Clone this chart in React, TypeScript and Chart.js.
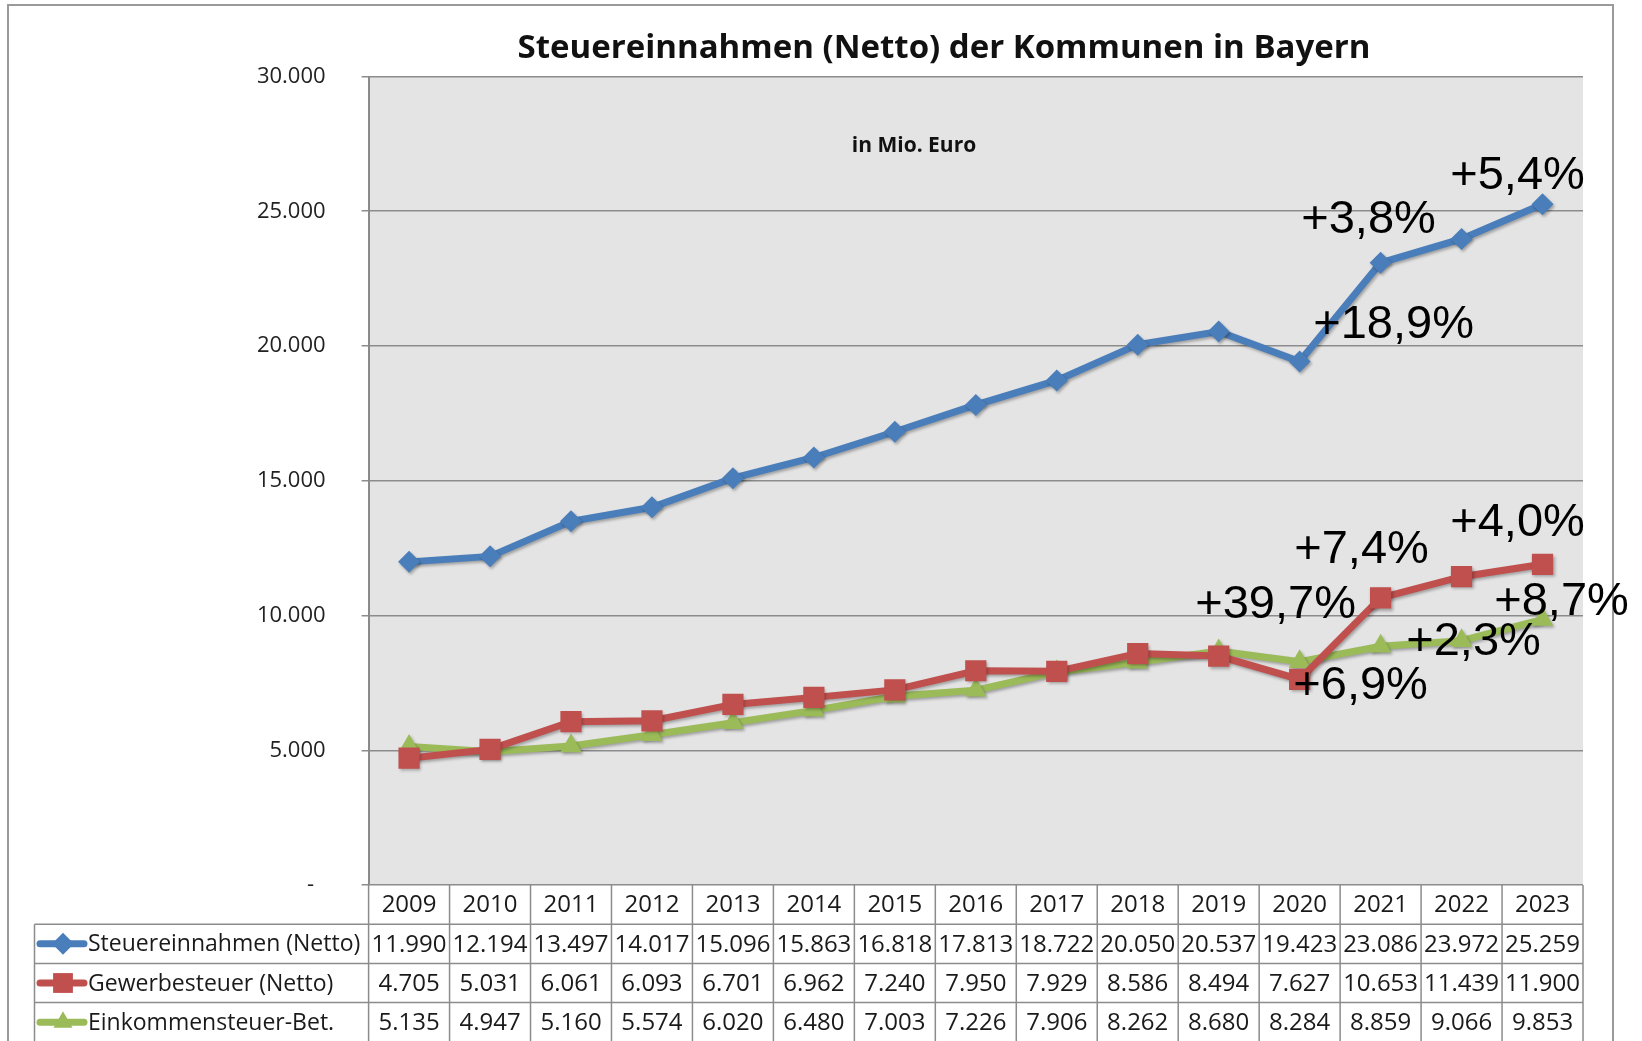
import React, { useEffect, useRef } from "react";
import { Chart, registerables } from "chart.js";

Chart.register(...registerables);

// ---------- data ----------
const years = ["2009", "2010", "2011", "2012", "2013", "2014", "2015", "2016", "2017", "2018", "2019", "2020", "2021", "2022", "2023"];
const steuereinnahmen = [11990, 12194, 13497, 14017, 15096, 15863, 16818, 17813, 18722, 20050, 20537, 19423, 23086, 23972, 25259];
const gewerbesteuer = [4705, 5031, 6061, 6093, 6701, 6962, 7240, 7950, 7929, 8586, 8494, 7627, 10653, 11439, 11900];
const einkommensteuer = [5135, 4947, 5160, 5574, 6020, 6480, 7003, 7226, 7906, 8262, 8680, 8284, 8859, 9066, 9853];
const seriesNames = ["Steuereinnahmen (Netto)", "Gewerbesteuer (Netto)", "Einkommensteuer-Bet."];
const yTicks = [0, 5000, 10000, 15000, 20000, 25000, 30000];
const yTickLabels = ["-  ", "5.000", "10.000", "15.000", "20.000", "25.000", "30.000"];
const title = "Steuereinnahmen (Netto) der Kommunen in Bayern";
const subtitle = "in Mio. Euro";
// growth labels: text, series index, year index
const growthTexts = ["+5,4%", "+3,8%", "+18,9%", "+4,0%", "+7,4%", "+39,7%", "+8,7%", "+2,3%", "+6,9%"];
const growthSeries = [0, 0, 0, 1, 1, 1, 2, 2, 2];
const growthYearIdx = [14, 13, 12, 14, 13, 12, 14, 13, 12];

// ---------- layout / style ----------
const W = 1642;
const H = 1041;
const PLOT = { left: 368.6, right: 1583, top: 76.5, bottom: 885 };
const ROW_H = 39.2;
const TABLE_LEFT = 34.5;
const COLORS = ["#4a7ebb", "#c0504d", "#9bbb59"];
const SHAPES = ["diamond", "square", "triangle"];
const growthOffsets = [
  [-25, -28], [-93, -19], [13, 62],
  [-25, -41], [-100, -27], [-105, 7],
  [19, -17], [12, 1], [-20, 40],
];
const LINE_GRAY = "#8c8c8c";
const TABLE_FONT = '24px "Open Sans"';
const LABEL_FONT = '23px "Open Sans"';

const seriesData = [steuereinnahmen, gewerbesteuer, einkommensteuer];

function fmt(v: number): string {
  const s = String(v);
  if (s.length <= 3) return s;
  return s.slice(0, s.length - 3) + "." + s.slice(s.length - 3);
}

function drawShape(ctx: CanvasRenderingContext2D, shape: string, x: number, y: number, r: number, color: string) {
  ctx.beginPath();
  if (shape === "diamond") {
    ctx.moveTo(x - r, y);
    ctx.lineTo(x, y - r);
    ctx.lineTo(x + r, y);
    ctx.lineTo(x, y + r);
  } else if (shape === "square") {
    const s = r * Math.SQRT1_2;
    ctx.rect(x - s, y - s, 2 * s, 2 * s);
  } else {
    ctx.moveTo(x, y - r);
    ctx.lineTo(x + r * Math.sin(Math.PI * 2 / 3), y + r * 0.5);
    ctx.lineTo(x - r * Math.sin(Math.PI * 2 / 3), y + r * 0.5);
  }
  ctx.closePath();
  ctx.fillStyle = color;
  ctx.fill();
}

const customPlugin = {
  id: "custom",
  beforeDraw(chart: any) {
    const { ctx, chartArea: a } = chart;
    ctx.save();
    ctx.fillStyle = "#ffffff";
    ctx.fillRect(0, 0, chart.width, chart.height);
    ctx.fillStyle = "#e4e4e4";
    ctx.fillRect(a.left, a.top, a.right - a.left, a.bottom - a.top);
    ctx.restore();
  },
  beforeDatasetsDraw(chart: any) {
    const ctx = chart.ctx;
    ctx.save();
    ctx.shadowColor = "rgba(0,0,0,0.3)";
    ctx.shadowBlur = 3;
    ctx.shadowOffsetX = 1.5;
    ctx.shadowOffsetY = 2;
  },
  afterDatasetsDraw(chart: any) {
    chart.ctx.restore();
  },
  afterDraw(chart: any) {
    const { ctx, chartArea: a } = chart;
    const xs = chart.scales.x;
    const ys = chart.scales.y;
    const n = years.length;
    const colW = (a.right - a.left) / n;
    ctx.save();

    // outer frame
    ctx.strokeStyle = "#9a9a9a";
    ctx.lineWidth = 2;
    ctx.beginPath();
    ctx.moveTo(8, H + 5);
    ctx.lineTo(8, 5);
    ctx.lineTo(1613, 5);
    ctx.lineTo(1613, H + 5);
    ctx.stroke();

    // title
    ctx.fillStyle = "#111";
    ctx.textAlign = "center";
    ctx.textBaseline = "middle";
    ctx.font = 'bold 33px "Open Sans"';
    ctx.fillText(title, 944, 49);
    ctx.font = 'bold 21px "Open Sans"';
    ctx.fillText(subtitle, 914, 146);

    // data table
    const top = a.bottom;
    ctx.strokeStyle = LINE_GRAY;
    ctx.lineWidth = 1.5;
    ctx.beginPath();
    for (let k = 0; k <= n; k++) {
      const x = a.left + k * colW;
      ctx.moveTo(x, top);
      ctx.lineTo(x, H + 5);
    }
    for (let r = 1; r <= 3; r++) {
      const y = top + r * ROW_H;
      ctx.moveTo(TABLE_LEFT, y);
      ctx.lineTo(a.right, y);
    }
    ctx.moveTo(TABLE_LEFT, top + ROW_H);
    ctx.lineTo(TABLE_LEFT, H + 5);
    ctx.stroke();

    ctx.font = TABLE_FONT;
    ctx.fillStyle = "#1a1a1a";
    ctx.textAlign = "center";
    years.forEach((yr, i) => {
      ctx.fillText(yr, xs.getPixelForValue(i), top + ROW_H * 0.5 + 1);
    });
    seriesData.forEach((arr, s) => {
      const cy = top + ROW_H * (s + 1.5) + 1;
      ctx.font = TABLE_FONT;
      ctx.textAlign = "center";
      ctx.fillStyle = "#1a1a1a";
      arr.forEach((v, i) => ctx.fillText(fmt(v), xs.getPixelForValue(i), cy));
      // legend key
      ctx.strokeStyle = COLORS[s];
      ctx.lineWidth = 7;
      ctx.lineCap = "round";
      ctx.beginPath();
      ctx.moveTo(40, cy - 1);
      ctx.lineTo(84, cy - 1);
      ctx.stroke();
      drawShape(ctx, SHAPES[s], 63, cy - 1, s === 1 ? 14 : 11, COLORS[s]);
      ctx.font = LABEL_FONT;
      ctx.textAlign = "left";
      ctx.fillStyle = "#1a1a1a";
      ctx.fillText(seriesNames[s], 88, cy);
    });

    // growth annotations
    ctx.font = '47px "Liberation Sans", Arial, sans-serif';
    ctx.fillStyle = "#000";
    ctx.textAlign = "center";
    ctx.textBaseline = "middle";
    growthTexts.forEach((t, k) => {
      const s = growthSeries[k];
      const i = growthYearIdx[k];
      const px = xs.getPixelForValue(i) + growthOffsets[k][0];
      const py = ys.getPixelForValue(seriesData[s][i]) + growthOffsets[k][1];
      ctx.fillText(t, px, py);
    });
    ctx.restore();
  },
};

export default function App() {
  const ref = useRef<HTMLCanvasElement | null>(null);
  useEffect(() => {
    if (!ref.current) return;
    const chart = new Chart(ref.current, {
      type: "line",
      data: {
        labels: years,
        datasets: seriesData.map((d, s) => ({
          label: seriesNames[s],
          data: d,
          borderColor: COLORS[s],
          backgroundColor: COLORS[s],
          borderWidth: 7,
          pointStyle: s === 0 ? "rectRot" : s === 1 ? "rect" : "triangle",
          pointRadius: s === 0 ? 11 : s === 1 ? 15 : 12.5,
          pointBorderWidth: 0,
          tension: 0,
          fill: false,
        })),
      },
      options: {
        animation: false,
        responsive: false,
        maintainAspectRatio: false,
        layout: {
          padding: { left: 0, top: PLOT.top, right: W - PLOT.right, bottom: H - PLOT.bottom },
        },
        plugins: {
          legend: { display: false },
          title: { display: false },
          tooltip: { enabled: false },
        },
        scales: {
          x: {
            type: "category",
            display: false,
            offset: true,
          },
          y: {
            min: 0,
            max: 30000,
            afterFit: (scale: any) => {
              scale.width = PLOT.left;
            },
            afterBuildTicks: (scale: any) => {
              scale.ticks = yTicks.map((v) => ({ value: v }));
            },
            border: { display: true, color: "#8a8a8a", width: 2 },
            grid: {
              color: LINE_GRAY,
              lineWidth: 1.5,
              drawTicks: true,
              tickLength: 7,
              tickColor: LINE_GRAY,
            },
            ticks: {
              padding: 36,
              color: "#222",
              font: { family: '"Open Sans"', size: 22 },
              callback: (value: any) => {
                const idx = yTicks.indexOf(Number(value));
                return idx >= 0 ? yTickLabels[idx] : "";
              },
            },
          },
        },
      },
      plugins: [customPlugin],
    } as any);
    return () => chart.destroy();
  }, []);

  return (
    <div style={{ position: "absolute", left: 0, top: 0, width: W, height: H, overflow: "hidden", background: "#fff" }}>
      <canvas ref={ref} width={W} height={H} style={{ width: W, height: H, display: "block" }} />
    </div>
  );
}
